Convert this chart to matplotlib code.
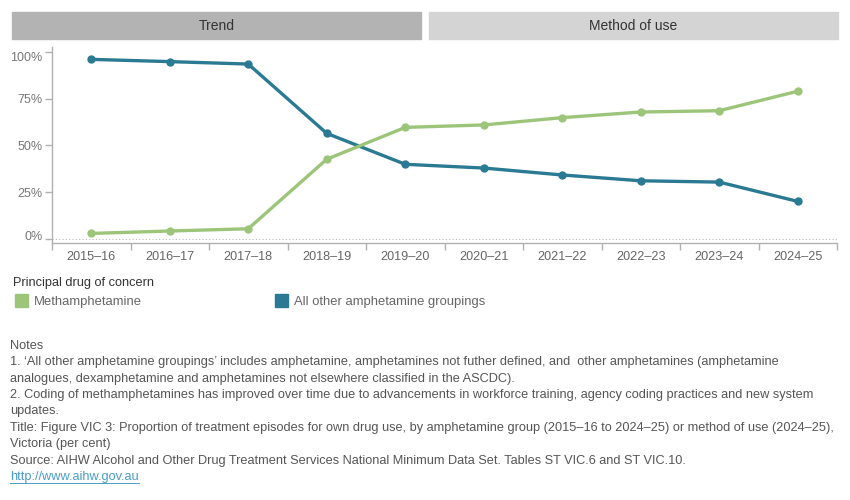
"""Amphetamine group trend chart (Victoria)."""

import matplotlib

matplotlib.use("Agg")
import matplotlib.pyplot as plt
import matplotlib.transforms as mtransforms
from matplotlib.lines import Line2D
from matplotlib.patches import Rectangle

# data
years = ["2015–16", "2016–17", "2017–18", "2018–19", "2019–20",
         "2020–21", "2021–22", "2022–23", "2023–24", "2024–25"]
methamphetamine = [3.0, 4.3, 5.5, 42.6, 59.6, 60.9, 64.8, 67.8, 68.5, 78.9]
other_amphetamine = [95.9, 94.7, 93.4, 56.4, 39.9, 37.9, 34.2, 31.1, 30.4, 20.1]
y_ticks = [0, 25, 50, 75, 100]
y_tick_labels = ["0%", "25%", "50%", "75%", "100%"]
tabs = ["Trend", "Method of use"]
legend_title = "Principal drug of concern"
series_names = ["Methamphetamine", "All other amphetamine groupings"]
notes = [
    "Notes",
    "1. \u2018All other amphetamine groupings\u2019 includes amphetamine, amphetamines not futher defined, and  other amphetamines (amphetamine",
    "analogues, dexamphetamine and amphetamines not elsewhere classified in the ASCDC).",
    "2. Coding of methamphetamines has improved over time due to advancements in workforce training, agency coding practices and new system",
    "updates.",
    "Title: Figure VIC 3: Proportion of treatment episodes for own drug use, by amphetamine group (2015–16 to 2024–25) or method of use (2024–25),",
    "Victoria (per cent)",
    "Source: AIHW Alcohol and Other Drug Treatment Services National Minimum Data Set. Tables ST VIC.6 and ST VIC.10.",
]
link = "http://www.aihw.gov.au"

GREEN = "#9cc57a"
BLUE = "#2a7a93"
AXIS = "#b0b0b0"
W, H = 850, 500

plt.rcParams["font.family"] = ["Liberation Sans", "DejaVu Sans"]

fig = plt.figure(figsize=(W / 100, H / 100), dpi=100)


def fx(px):
    return px / W


def fy(py):
    return 1 - py / H


# tab headers
for (x0, x1, col), label in zip([(12, 421, "#b3b3b3"), (429, 838, "#d4d4d4")], tabs):
    fig.patches.append(Rectangle((fx(x0), fy(39)), fx(x1 - x0), (39 - 12) / H,
                                 transform=fig.transFigure, color=col, zorder=0))
    fig.text(fx((x0 + x1) / 2), fy(26), label, ha="center", va="center",
             fontsize=10, color="#333333")

ax = fig.add_axes([fx(52), fy(243), fx(837 - 52), (243 - 47) / H])
x = list(range(len(years)))
ax.plot(x, other_amphetamine, color=BLUE, lw=2.4, marker="o", ms=5, zorder=3)
ax.plot(x, methamphetamine, color=GREEN, lw=2.4, marker="o", ms=5, zorder=3)
ax.axhline(0, color="#b8b8b8", lw=0.8, ls=(0, (1, 2)), zorder=1)

ax.set_xlim(-0.5, len(years) - 0.5)
ax.set_ylim(-2.1, 102.5)
ax.set_yticks(y_ticks)
ax.set_yticklabels(y_tick_labels, fontsize=9, color="#777777")
ax.set_xticks(x)
ax.set_xticklabels(years, fontsize=9.1, color="#666666")
ax.set_xticks([i - 0.5 for i in range(len(years) + 1)], minor=True)
ax.tick_params(axis="x", which="major", length=0, pad=6)
ax.tick_params(axis="x", which="minor", length=5, color=AXIS, width=1)
ax.tick_params(axis="y", length=5, color=AXIS, width=1, pad=2)
# tableau keeps the end labels inside the axis range
ylabels = ax.get_yticklabels()
ylabels[0].set_transform(ylabels[0].get_transform() +
                         mtransforms.ScaledTranslation(0, 4 / 100, fig.dpi_scale_trans))
ylabels[-1].set_transform(ylabels[-1].get_transform() +
                          mtransforms.ScaledTranslation(0, -5 / 100, fig.dpi_scale_trans))
for side in ["top", "right"]:
    ax.spines[side].set_visible(False)
for side in ["left", "bottom"]:
    ax.spines[side].set_color(AXIS)
    ax.spines[side].set_linewidth(1)

# legend
fig.text(fx(13), fy(283), legend_title, ha="left", va="center", fontsize=9.2, color="#333333")
for (sx, tx), name, col in zip([(15, 34), (275, 294)], series_names, [GREEN, BLUE]):
    fig.patches.append(Rectangle((fx(sx), fy(307)), fx(13), 13 / H,
                                 transform=fig.transFigure, color=col))
    fig.text(fx(tx), fy(302), name, ha="left", va="center", fontsize=9.4, color="#666666")

# notes
note_y = [346, 362, 379, 395, 411, 428, 444, 461]
for line, yy in zip(notes, note_y):
    fig.text(fx(10), fy(yy), line, ha="left", va="center", fontsize=9.2, color="#555555")
lt = fig.text(fx(10), fy(477), link, ha="left", va="center", fontsize=9.2, color="#4a9cc8")
fig.canvas.draw()
bb = lt.get_window_extent().transformed(fig.transFigure.inverted())
fig.lines.append(Line2D([bb.x0, bb.x1], [bb.y0 + 0.001, bb.y0 + 0.001],
                        transform=fig.transFigure, color="#4a9cc8", lw=0.7))

fig.savefig("out.png", dpi=100)
